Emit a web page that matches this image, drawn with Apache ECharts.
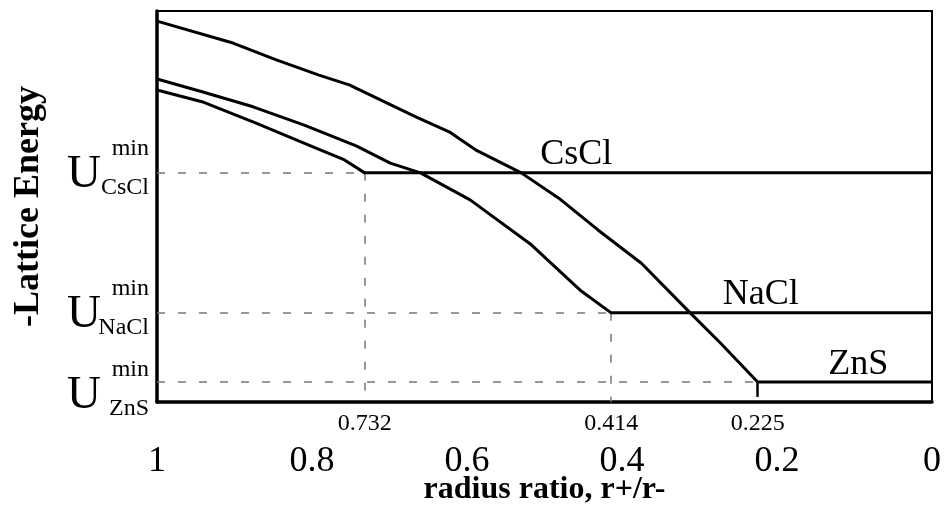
<!DOCTYPE html>
<html>
<head>
<meta charset="utf-8">
<script src="https://cdn.jsdelivr.net/npm/echarts@6/dist/echarts.min.js"></script>
<style>
html,body{margin:0;padding:0;background:#fff;}
#chart{width:951px;height:529px;}
</style>
</head>
<body>
<div id="chart"></div>
<script>
// ---- data (x = radius ratio r+/r-, y = -lattice energy, arbitrary units) ----
const xTickValues = [1, 0.8, 0.6, 0.4, 0.2, 0];
const ratioLimits = [0.732, 0.414, 0.225];
const structureNames = ['CsCl', 'NaCl', 'ZnS'];
const uMinValues = [58.6, 22.8, 5.1];

const csclCurve = [[1.000,79.8],[0.942,76.8],[0.873,71.4],[0.798,65.2],[0.758,61.9],[0.732,58.6],[0,58.6]];
const naclCurve = [[1.000,82.6],[0.943,79.4],[0.876,75.5],[0.810,70.8],[0.743,65.5],[0.699,61.1],[0.660,58.6],[0.596,51.7],[0.517,40.2],[0.454,28.6],[0.414,22.8],[0,22.8]];
const znsCurve = [[1.000,97.4],[0.902,91.8],[0.846,87.5],[0.791,83.6],[0.752,81.1],[0.666,72.9],[0.623,69.1],[0.589,64.5],[0.530,58.6],[0.482,52.2],[0.431,44.0],[0.375,35.5],[0.312,22.8],[0.273,15.1],[0.225,5.1],[0,5.1]];

// ---- presentation ----
const FONT = "'Liberation Serif','Times New Roman',serif";
const curves = [csclCurve, naclCurve, znsCurve];
const labelAt = [0.459, 0.221, 0.095];

const dotted = {color: '#777', width: 1.5, type: [8, 13]};

function guideLines(i) {
  const r = ratioLimits[i], u = uMinValues[i];
  const lines = [
    [{coord: [1, u], lineStyle: dotted}, {coord: [r, u]}]
  ];
  if (i < 2) {
    lines.push([{coord: [r, u], lineStyle: dotted}, {coord: [r, 0]}]);
  } else {
    lines.push([{coord: [r, u], lineStyle: {color: '#000', width: 2.5, type: 'solid'}}, {coord: [r, 1.3]}]);
  }
  return lines;
}

const series = curves.map((c, i) => ({
  type: 'line',
  name: structureNames[i],
  data: c,
  symbol: 'none',
  smooth: false,
  lineStyle: {color: '#000', width: 3},
  z: 5,
  markLine: {
    silent: true,
    symbol: ['none', 'none'],
    label: {show: false},
    animation: false,
    z: 3,
    data: guideLines(i)
  },
  markPoint: {
    silent: true,
    symbol: 'circle',
    symbolSize: 0.001,
    itemStyle: {color: 'rgba(0,0,0,0)'},
    animation: false,
    label: {
      show: true,
      position: 'top',
      distance: 0,
      formatter: structureNames[i],
      fontFamily: FONT,
      fontSize: 36,
      color: '#000'
    },
    data: [{coord: [labelAt[i], uMinValues[i]]}]
  }
}));

const chart = echarts.init(document.getElementById('chart'), null, {renderer: 'canvas'});
chart.setOption({
  animation: false,
  backgroundColor: '#fff',
  grid: {
    left: 157, right: 19, top: 11, bottom: 127,
    show: true, borderColor: '#000', borderWidth: 2,
    containLabel: false, outerBoundsMode: 'none'
  },
  xAxis: [{
    type: 'value', inverse: true, min: 0, max: 1, position: 'bottom',
    axisLine: {show: true, onZero: false, lineStyle: {color: '#000', width: 3.5}},
    axisTick: {show: false},
    splitLine: {show: false},
    axisLabel: {
      customValues: xTickValues,
      showMinLabel: true, showMaxLabel: true,
      formatter: v => String(v),
      fontFamily: FONT, fontSize: 36, color: '#000', margin: 42, lineHeight: 36
    },
    name: 'radius ratio, r+/r-',
    nameLocation: 'middle',
    nameGap: 72,
    nameMoveOverlap: false,
    nameTextStyle: {fontFamily: FONT, fontSize: 32, fontWeight: 'bold', color: '#000'}
  }, {
    type: 'value', inverse: true, min: 0, max: 1, position: 'bottom',
    axisLine: {show: false, onZero: false},
    axisTick: {show: false},
    splitLine: {show: false},
    axisLabel: {
      customValues: ratioLimits,
      formatter: v => v.toFixed(3),
      fontFamily: FONT, fontSize: 24, color: '#000', margin: 10, lineHeight: 24
    }
  }],
  yAxis: {
    type: 'value', min: 0, max: 100, position: 'left',
    axisLine: {show: true, onZero: false, lineStyle: {color: '#000', width: 3.5}},
    axisTick: {show: false},
    splitLine: {show: false},
    axisLabel: {
      customValues: uMinValues,
      margin: 8,
      padding: [2, 0, 0, 0],
      formatter: v => {
        const i = uMinValues.indexOf(v);
        const name = i >= 0 ? structureNames[i] : '';
        const lead = i === 2 ? '{gap| }\n' : '';
        return lead + '{sp| }{sup|min}\n{u|U}{sub|' + name + '}';
      },
      rich: {
        gap: {lineHeight: 24, fontSize: 10, fontFamily: FONT},
        sp: {width: 34, lineHeight: 2, fontSize: 24, fontFamily: FONT},
        sup: {width: 48, lineHeight: 2, fontSize: 24, fontFamily: FONT, color: '#000'},
        u: {width: 34, lineHeight: 50, fontSize: 47, fontFamily: FONT, color: '#000'},
        sub: {width: 48, lineHeight: 20, fontSize: 24, fontFamily: FONT, color: '#000', verticalAlign: 'bottom'}
      }
    },
    name: '-Lattice Energy',
    nameLocation: 'middle',
    nameGap: 110,
    nameMoveOverlap: false,
    nameTextStyle: {fontFamily: FONT, fontSize: 36, fontWeight: 'bold', color: '#000'}
  },
  series: series
});
</script>
</body>
</html>
